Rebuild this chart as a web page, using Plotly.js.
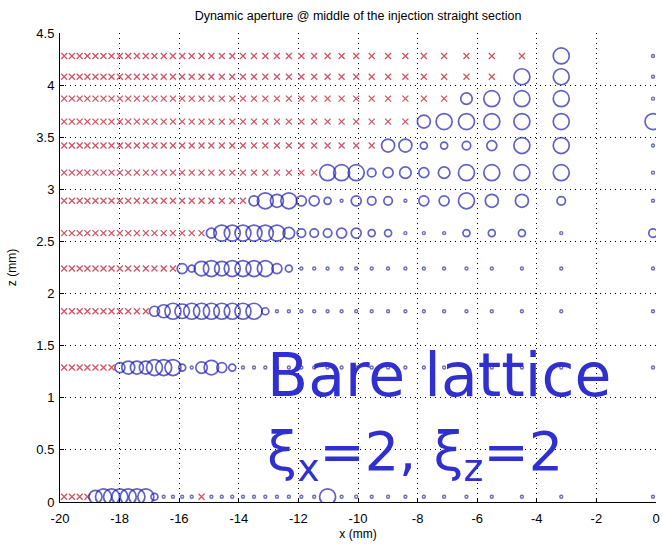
<!DOCTYPE html>
<html><head><meta charset="utf-8">
<script src="https://cdn.plot.ly/plotly-3.0.1.min.js"></script>
<style>html,body{margin:0;padding:0;background:#fff;} #chart{width:662px;height:544px;}</style>
</head><body><div id="chart"></div>
<script>
// horizontal grid of launch points (mm), left to right
const xCols = [-19.86,-19.60,-19.34,-19.08,-18.81,-18.54,-18.27,-17.99,-17.71,-17.42,
  -17.12,-16.83,-16.52,-16.21,-15.90,-15.58,-15.25,-14.92,-14.57,-14.22,
  -13.86,-13.49,-13.11,-12.72,-12.32,-11.90,-11.47,-11.02,-10.55,-10.06,
  -9.54,-8.99,-8.41,-7.79,-7.11,-6.36,-5.51,-4.50,-3.18,-0.10];
// vertical launch amplitudes (mm)
const zRows = [0.05,1.29,1.83,2.24,2.58,2.89,3.16,3.42,3.65,3.87,4.08,4.28];
// diffusion level per point: 0 = particle lost (red x), 1 = tiny dot, 2..5 = circle of growing size
const row00 = [0,0,0,0,4,5,5,5,5,5,5,2,1,1,1,1,0,1,1,1,1,1,1,1,1,1,1,5,1,1,1,1,1,1,1,1,1,1,1,1];
const row01 = [0,0,0,0,0,0,0,3,4,4,4,5,5,5,2,1,3.5,4.5,3,2,1,1,1,1,1,1,1,1,1,1,1,1,1,1,1,1,1,1,1,1];
const row02 = [0,0,0,0,0,0,0,0,0,0,0,3,4,5,4.5,5,5,5,5,5,5,5,2,1,1,1,1,1,1,1,1,1,1,1,1,1,1,1,1,1];
const row03 = [0,0,0,0,0,0,0,0,0,0,0,0,0,0,3,2,4.5,5,4.5,5,5,5,5,3,2,1,1,1,1,1,1,1,1,1,1,1,1,1,1,1];
const row04 = [0,0,0,0,0,0,0,0,0,0,0,0,0,0,0,0,0,3,5,5,5,5,5,5,3.5,2.5,2.5,2.5,3,3,2,2,1,1,1,2,2,2,1,2.5];
const row05 = [0,0,0,0,0,0,0,0,0,0,0,0,0,0,0,0,0,0,0,0,0,3,5,4,5,3,3,2,1,3,2.5,2.5,1,3,3,5,4,4,2.5,1];
const row06 = [0,0,0,0,0,0,0,0,0,0,0,0,0,0,0,0,0,0,0,0,0,0,0,0,0,0,0,5,5,5,2.5,3,3.5,3,3.5,5,5,5,5,1];
const row07 = [0,0,0,0,0,0,0,0,0,0,0,0,0,0,0,0,0,0,0,0,0,0,0,0,0,0,0,0,0,0,0,4,4,2,2,2.5,3,5,5,1];
const row08 = [0,0,0,0,0,0,0,0,0,0,0,0,0,0,0,0,0,0,0,0,0,0,0,0,0,0,0,0,0,0,0,0,0,4,5,5,5,5,5,5];
const row09 = [0,0,0,0,0,0,0,0,0,0,0,0,0,0,0,0,0,0,0,0,0,0,0,0,0,0,0,0,0,0,0,0,0,0,0,3.5,5,5,5,1];
const row10 = [0,0,0,0,0,0,0,0,0,0,0,0,0,0,0,0,0,0,0,0,0,0,0,0,0,0,0,0,0,0,0,0,0,0,0,0,0,5,5,1];
const row11 = [0,0,0,0,0,0,0,0,0,0,0,0,0,0,0,0,0,0,0,0,0,0,0,0,0,0,0,0,0,0,0,0,0,0,0,0,0,0,5,1];
const levelRows = [row00,row01,row02,row03,row04,row05,row06,row07,row08,row09,row10,row11];

const xTickVals = [-20,-18,-16,-14,-12,-10,-8,-6,-4,-2,0];
const xTickText = ['-20','-18','-16','-14','-12','-10','-8','-6','-4','-2','0'];
const yTickVals = [0,0.5,1,1.5,2,2.5,3,3.5,4,4.5];
const yTickText = ['0','0.5','1','1.5','2','2.5','3','3.5','4','4.5'];

const titleText = 'Dynamic aperture @ middle of the injection straight section';
const note1 = 'Bare lattice';
const note2 = 'ξ<sub>x</sub>=2, ξ<sub>z</sub>=2';

const lost = {x:[],y:[]}, dots = {x:[],y:[]}, circ = {x:[],y:[],s:[]};
levelRows.forEach((row, r) => {
  row.forEach((lv, c) => {
    const x = xCols[c], z = zRows[r];
    if (lv === 0) { lost.x.push(x); lost.y.push(z); }
    else if (lv === 1) { dots.x.push(x); dots.y.push(z); }
    else { circ.x.push(x); circ.y.push(z); circ.s.push(3*lv + 1); }
  });
});

const traces = [
  {type:'scatter', mode:'markers', x:lost.x, y:lost.y, hoverinfo:'skip',
   marker:{symbol:'x-thin-open', size:6, line:{width:1.3, color:'#cf5568'}, color:'#cf5568'}},
  {type:'scatter', mode:'markers', x:dots.x, y:dots.y, hoverinfo:'skip',
   marker:{symbol:'circle-open', size:3, line:{width:1.4, color:'#6f6fb6'}, color:'#6f6fb6'}},
  {type:'scatter', mode:'markers', x:circ.x, y:circ.y, hoverinfo:'skip',
   marker:{symbol:'circle-open', size:circ.s, line:{width:1.7, color:'#1e1eb0'}, color:'#1e1eb0'}}
];

const tickFont = {family:'Liberation Sans, Arial, sans-serif', size:13, color:'#000'};
const axisCommon = {
  showgrid:true, gridcolor:'#000', gridwidth:1, griddash:'1px,4px',
  zeroline:false, showline:true, linecolor:'#000', linewidth:1,
  ticks:'inside', ticklen:4, tickcolor:'#000', tickfont:tickFont, fixedrange:true, tickmode:'array'
};

const layout = {
  width:662, height:544,
  margin:{l:60, r:6, t:33, b:42},
  paper_bgcolor:'#fff', plot_bgcolor:'#fff',
  showlegend:false,
  title:{text:titleText, font:{family:'Liberation Sans, Arial, sans-serif', size:12.5, color:'#000'},
         x:0.5, xref:'paper', xanchor:'center', y:1-16/544, yref:'container', yanchor:'middle'},
  xaxis:Object.assign({}, axisCommon, {range:[-20,0], tickvals:xTickVals, ticktext:xTickText, ticklabelstandoff:4,
    title:{text:'x (mm)', font:{family:'Liberation Sans, Arial, sans-serif', size:12, color:'#000'}, standoff:5}}),
  yaxis:Object.assign({}, axisCommon, {range:[0,4.5], tickvals:yTickVals, ticktext:yTickText, ticklabelstandoff:2,
    title:{text:'z (mm)', font:{family:'Liberation Sans, Arial, sans-serif', size:12, color:'#000'}, standoff:17}}),
  annotations:[
    {text:note1, xref:'paper', yref:'paper', x:0.344, y:0.27, xanchor:'left', yanchor:'middle', showarrow:false,
     font:{family:'DejaVu Sans, sans-serif', size:60, color:'#3030d0'}},
    {text:note2, xref:'paper', yref:'paper', x:0.344, y:0.1, xanchor:'left', yanchor:'middle', showarrow:false,
     font:{family:'DejaVu Sans, sans-serif', size:54, color:'#3030d0'}}
  ]
};

Plotly.newPlot('chart', traces, layout, {displayModeBar:false, staticPlot:true});
</script>
</body></html>
